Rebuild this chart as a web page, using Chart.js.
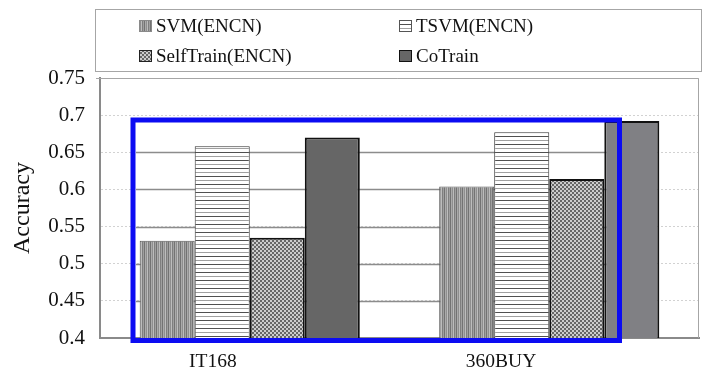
<!DOCTYPE html>
<html>
<head>
<meta charset="utf-8">
<script src="https://cdn.jsdelivr.net/npm/chart.js@4.4.1/dist/chart.umd.min.js"></script>
<style>
  html, body { margin: 0; padding: 0; background: #ffffff; }
  canvas { display: block; }
</style>
</head>
<body>
<canvas id="chart" width="702" height="373"></canvas>
<script>
// Accuracy of four semi-supervised classifiers on two product-review corpora
const categories = ['IT168', '360BUY'];
const seriesNames = ['SVM(ENCN)', 'TSVM(ENCN)', 'SelfTrain(ENCN)', 'CoTrain'];
const svmValues = [0.531, 0.604];
const tsvmValues = [0.658, 0.677];
const selfTrainValues = [0.535, 0.614];
const coTrainValues = [0.670, 0.692];
const yTickValues = [0.4, 0.45, 0.5, 0.55, 0.6, 0.65, 0.7, 0.75];
const yTickLabels = ['0.4', '0.45', '0.5', '0.55', '0.6', '0.65', '0.7', '0.75'];

const SERIF = '"Liberation Serif", "Times New Roman", Times, serif';

// Small repeating tiles used as hatch fills for the bars
function makePattern(w, h, paint) {
  const c = document.createElement('canvas');
  c.width = w; c.height = h;
  const g = c.getContext('2d');
  paint(g);
  return g.createPattern(c, 'repeat');
}

const verticalStripes = makePattern(6, 1, g => {
  const cols = ['#737373', '#ababab', '#8f8f8f', '#bdbdbd', '#7f7f7f', '#a0a0a0'];
  cols.forEach((col, i) => { g.fillStyle = col; g.fillRect(i, 0, 1, 1); });
});

const horizontalStripes = makePattern(1, 8, g => {
  g.fillStyle = '#ffffff'; g.fillRect(0, 0, 1, 8);
  g.fillStyle = '#505050'; g.fillRect(0, 0, 1, 1);
  g.fillStyle = '#a0a0a0'; g.fillRect(0, 4, 1, 1);
});

const checker = makePattern(4, 4, g => {
  g.fillStyle = '#cccccc'; g.fillRect(0, 0, 4, 4);
  g.fillStyle = '#666666';
  g.fillRect(0, 0, 2, 2);
  g.fillRect(2, 2, 2, 2);
});

// Grey frame on the top and right of the plot area
const plotFrame = {
  id: 'plotFrame',
  beforeDatasetsDraw(chart) {
    const { ctx, chartArea: a } = chart;
    ctx.save();
    ctx.strokeStyle = '#a6a6a6';
    ctx.lineWidth = 1;
    ctx.beginPath();
    ctx.moveTo(a.left - 4, a.top + 0.5);
    ctx.lineTo(a.right - 0.5, a.top + 0.5);
    ctx.lineTo(a.right - 0.5, a.bottom);
    ctx.stroke();
    ctx.restore();
  }
};

// Highlight rectangle around the compared region; grid lines inside it are solid
const highlight = {
  id: 'highlight',
  beforeDatasetsDraw(chart, args, opts) {
    const { ctx } = chart;
    const y = chart.scales.y;
    ctx.save();
    ctx.strokeStyle = '#8c8c8c';
    ctx.lineWidth = 1.5;
    yTickValues.forEach(v => {
      const py = Math.round(y.getPixelForValue(v)) + 0.5;
      if (py > opts.top + 3 && py < y.bottom - 2) {
        ctx.beginPath();
        ctx.moveTo(opts.left + 3, py);
        ctx.lineTo(opts.right - 3, py);
        ctx.stroke();
      }
    });
    ctx.restore();
  },
  afterDatasetsDraw(chart, args, opts) {
    const { ctx } = chart;
    ctx.save();
    ctx.strokeStyle = '#0c0cf2';
    ctx.lineWidth = 5;
    ctx.strokeRect(opts.left, opts.top, opts.right - opts.left, opts.bottom - opts.top);
    ctx.restore();
  }
};

// Two-column boxed legend above the plot
const boxLegend = {
  id: 'boxLegend',
  afterDraw(chart, args, opts) {
    const { ctx } = chart;
    ctx.save();
    ctx.strokeStyle = '#a6a6a6';
    ctx.lineWidth = 1;
    ctx.strokeRect(opts.x + 0.5, opts.y + 0.5, opts.w, opts.h);
    ctx.font = opts.fontSize + 'px ' + SERIF;
    ctx.textBaseline = 'middle';
    ctx.textAlign = 'left';
    chart.data.datasets.forEach((ds, i) => {
      const col = i % 2, row = Math.floor(i / 2);
      const bx = opts.colX[col];
      const cy = opts.rowY[row];
      const fill = Array.isArray(ds.backgroundColor) ? ds.backgroundColor[0] : ds.backgroundColor;
      ctx.fillStyle = fill;
      ctx.fillRect(bx, cy - 6, 13, 12);
      ctx.strokeStyle = ds.legendBorder || '#555';
      ctx.lineWidth = 1;
      ctx.strokeRect(bx + 0.5, cy - 5.5, 12, 11);
      ctx.fillStyle = '#111';
      ctx.fillText(ds.label, bx + 17, cy + 1);
    });
    ctx.restore();
  }
};

const datasets = [
  { label: seriesNames[0], data: svmValues, backgroundColor: verticalStripes, borderColor: '#5a5a5a', borderWidth: 1, legendBorder: '#8a8a8a' },
  { label: seriesNames[1], data: tsvmValues, backgroundColor: horizontalStripes, borderColor: '#333333', borderWidth: 1, legendBorder: '#555' },
  { label: seriesNames[2], data: selfTrainValues, backgroundColor: checker, borderColor: '#111111', borderWidth: 2, legendBorder: '#222' },
  { label: seriesNames[3], data: coTrainValues, backgroundColor: ['#666666', '#808084'], borderColor: '#111111', borderWidth: 2, legendBorder: '#111' }
];

new Chart(document.getElementById('chart'), {
  type: 'bar',
  data: { labels: categories, datasets },
  plugins: [plotFrame, highlight, boxLegend],
  options: {
    responsive: false,
    animation: false,
    devicePixelRatio: 1,
    layout: { padding: { top: 78, right: 3, left: 0, bottom: 0 } },
    datasets: { bar: { categoryPercentage: 0.735, barPercentage: 1.0 } },
    plugins: {
      legend: { display: false },
      tooltip: { enabled: false },
      highlight: { left: 133, top: 120, right: 619.5, bottom: 340.5 },
      boxLegend: { x: 95, y: 9, w: 606, h: 62, colX: [139, 399], rowY: [26, 56], fontSize: 19 }
    },
    scales: {
      x: {
        grid: { display: false, drawTicks: false },
        border: { color: '#8a8a8a', width: 2 },
        ticks: { color: '#111', font: { family: SERIF, size: 19.5 }, padding: 12, align: 'end', labelOffset: -13 },
        afterFit(scale) { scale.height = 35; }
      },
      y: {
        min: 0.4,
        max: 0.75,
        afterBuildTicks(scale) { scale.ticks = yTickValues.map(v => ({ value: v })); },
        grid: { color: '#d2d2d2', lineWidth: 1, drawTicks: false },
        border: { color: '#8a8a8a', width: 2, dash: [2, 2] },
        ticks: {
          color: '#111',
          font: { family: SERIF, size: 21 },
          padding: 15,
          callback: (v, i) => yTickLabels[i]
        },
        title: { display: true, text: 'Accuracy', color: '#111', font: { family: SERIF, size: 24 }, padding: { top: 8, bottom: 0 } },
        afterFit(scale) { scale.width = 100; }
      }
    }
  }
});
</script>
</body>
</html>
